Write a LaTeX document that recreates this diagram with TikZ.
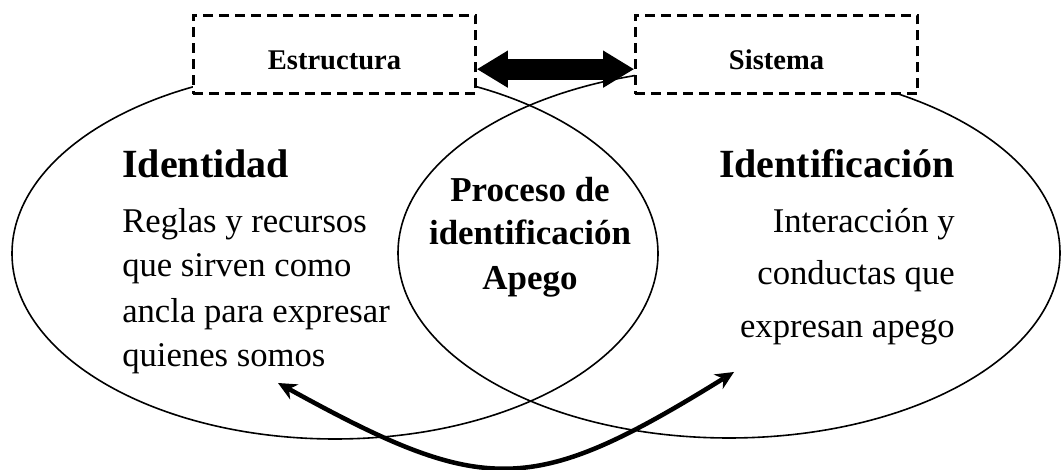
\documentclass[tikz,border=0pt]{standalone}
\usepackage{fontspec}
\setmainfont{Liberation Serif}
\usetikzlibrary{arrows.meta}

\begin{document}
\begin{tikzpicture}[x=0.75pt,y=0.75pt,
    oval/.style={line width=1.2pt},
    dashbox/.style={draw,line width=2.1pt,dash pattern=on 7.5pt off 4.5pt,fill=white,
      minimum width=212pt,minimum height=59pt,inner sep=0pt},
    boxtext/.style={anchor=base,inner sep=0pt,font=\fontsize{21.4}{25}\selectfont\bfseries},
    title/.style={inner sep=0pt,font=\fontsize{30}{34}\selectfont\bfseries},
    body/.style={inner sep=0pt,font=\fontsize{26}{30}\selectfont},
    core/.style={anchor=base,inner sep=0pt,font=\fontsize{26.2}{30}\selectfont\bfseries},
    link/.style={line width=15.75pt,
      {Triangle[length=23pt,width=28pt,line width=0pt]}-{Triangle[length=23pt,width=28pt,line width=0pt]}},
    swing/.style={line width=3.4pt,
      {Stealth[length=14pt,width=13pt,line width=0pt]}-{Stealth[length=14pt,width=13pt,line width=0pt]}}]
  \useasboundingbox (0,0) rectangle (1061,470);
  \draw[oval] (335,216.5) ellipse [x radius=323, y radius=185.5];
  \draw[oval] (729,217) ellipse [x radius=331, y radius=185];
  \node[dashbox] (estr) at (334.5,415.5) {};
  \node[dashbox] (sist) at (776.5,415.5) {};
  \node[boxtext] (estrtxt) at ([yshift=-11.6pt]estr.center) {Estructura};
  \node[boxtext] (sisttxt) at ([yshift=-11.6pt]sist.center) {Sistema};
  \draw[link] ([yshift=-11pt]estr.east) -- ([yshift=-11pt]sist.west);
  \node[title,anchor=base west] (ident) at (122,292) {Identidad};
  \node[body,anchor=base west] (regl) at (122,237) {Reglas y recursos};
  \node[body,anchor=base west] (sirv) at (122,193) {que sirven como};
  \node[body,anchor=base west] (ancla) at (122,147) {ancla para expresar};
  \node[body,anchor=base west] (quien) at (122,103) {quienes somos};
  \node[title,anchor=base east] (idf) at (955,292) {Identificación};
  \node[body,anchor=base east] (inter) at (955,237) {Interacción y};
  \node[body,anchor=base east] (cond) at (955,185) {conductas que};
  \node[body,anchor=base east] (expr) at (955,132) {expresan apego};
  \node[core] (proc) at (530,268) {Proceso de};
  \node[core] (idproc) at (530,225) {identificación};
  \node[core] (apego) at (530,180) {Apego};
  \coordinate (lefttip) at (278,87);
  \coordinate (righttip) at (734,98);
  \draw[swing] (lefttip) .. controls (485,-27) and (532,-27) .. (righttip);
\end{tikzpicture}
\end{document}
